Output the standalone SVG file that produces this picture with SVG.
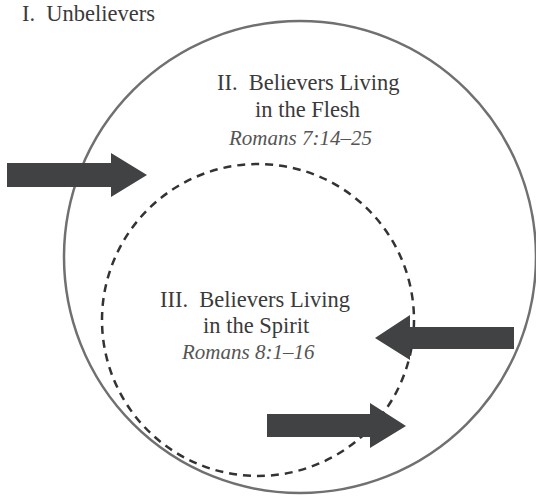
<svg xmlns="http://www.w3.org/2000/svg" width="536" height="500" viewBox="0 0 536 500">
<style>
.arrow{fill:#414244}
</style>
<rect width="536" height="500" fill="#fff"/>
<g id="unbelievers" font-family="'Liberation Serif', serif" font-size="22.5" fill="#3a3a3a">
<text x="22" y="21" xml:space="preserve">I.  Unbelievers</text>
</g>
<g id="flesh" font-family="'Liberation Serif', serif" font-size="22.5" fill="#3a3a3a">
<circle cx="300" cy="257" r="236" fill="none" stroke="#707070" stroke-width="2.5"/>
<text x="217" y="90" xml:space="preserve">II.  Believers Living</text>
<text x="255" y="117">in the Flesh</text>
<text x="229" y="145" font-size="21" font-style="italic" fill="#555">Romans 7:14–25</text>
</g>
<g id="spirit" font-family="'Liberation Serif', serif" font-size="22.5" fill="#3a3a3a">
<circle cx="258" cy="320" r="156" fill="none" stroke="#333" stroke-width="2.5" stroke-dasharray="8 6"/>
<text x="160" y="307" xml:space="preserve">III.  Believers Living</text>
<text x="203" y="333">in the Spirit</text>
<text x="182" y="359" font-size="21" font-style="italic" fill="#555">Romans 8:1–16</text>
</g>
<g id="connectors">
<polygon class="arrow" points="7,163 111,163 111,153 147,175 111,197 111,187 7,187"/>
<polygon class="arrow" points="514,327 410,327 410,315 375,338 410,360 410,349 514,349"/>
<polygon class="arrow" points="267,414 370,414 370,403 406,426 370,448 370,437 267,437"/>
</g>
</svg>
